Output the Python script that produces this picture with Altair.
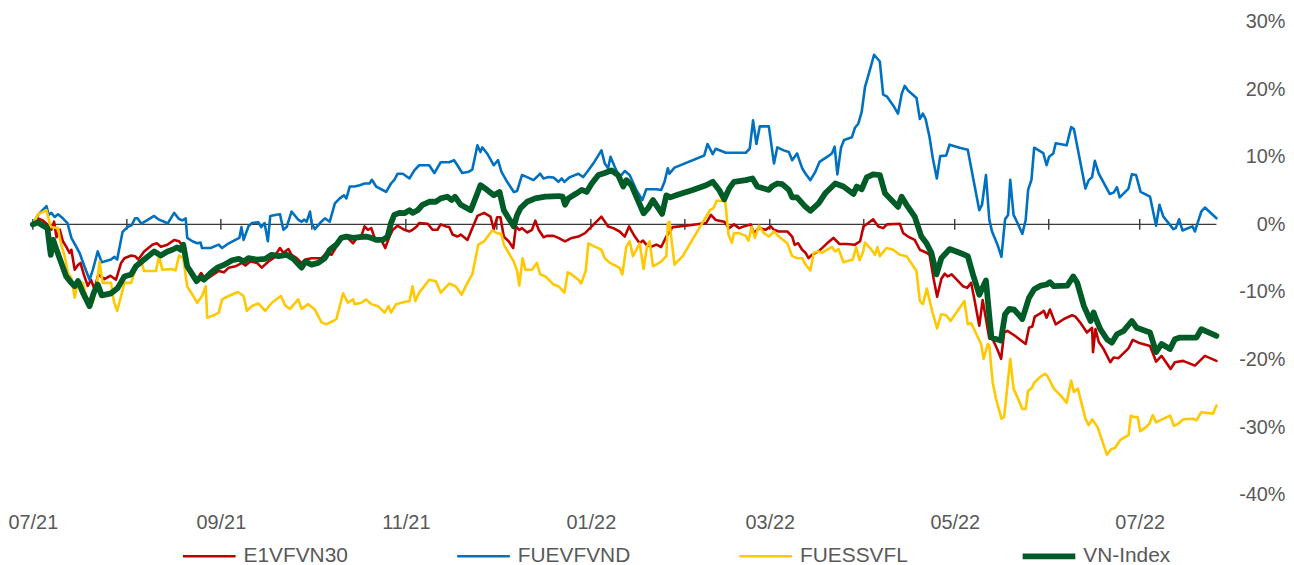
import altair as alt
import pandas as pd

SERIES = ["E1VFVN30", "FUEVFVND", "FUESSVFL", "VN-Index"]
COLORS = ["#C00000", "#0070C0", "#FFC800", "#005C27"]
WIDTHS = [2.6, 2.6, 2.6, 5.8]

START = "2021-07-01"

# days since 2021-07-01, and cumulative return in %
e1_day = [0,1.7,3.4,4.8,6.1,7.0,7.8,8.9,9.9,11.0,12.1,12.7,13.8,14.9,15.7,16.8,18.1,19.2,20.3,21.6,
          23.6,25.6,27.4,29.1,30.2,32.4,33.7,34.8,36.7,39.4,40.9,42.2,44.4,46.6,48.2,49.6,50.9,52.6,54.0,55.5,
          57.0,58.6,61.3,63.0,64.6,66.8,69.0,70.1,71.7,73.9,75.5,77.7,79.3,81.5,82.6,84.3,85.3,87.0,88.6,89.9,
          91.9,95.2,96.8,98.5,100.1,101.7,103.4,105.6,107.2,108.5,109.4,110.5,111.6,112.7,114.9,116.2,117.6,118.7,120.3,122.5,
          124.2,125.2,126.6,127.4,130.2,131.8,133.4,134.5,136.2,137.3,138.4,140.0,141.1,143.3,144.7,146.6,148.8,150.9,152.0,153.1,
          154.2,155.3,156.9,158.4,159.3,160.4,161.3,163.0,164.6,165.7,166.8,168.4,169.5,171.7,173.3,175.5,177.7,179.9,182.1,184.3,
          187.5,189.7,191.4,193.5,195.2,196.6,198.5,200.1,201.2,202.3,203.9,205.6,207.2,208.9,211.0,215.4,222.0,223.6,225.2,228.0,
          229.6,231.2,232.9,235.1,236.7,237.8,239.4,241.6,243.3,244.4,246.0,248.8,250.4,251.2,252.4,253.7,254.8,255.8,256.9,259.1,
          261.9,264.0,266.0,268.4,271.1,272.8,273.9,275.5,277.1,278.8,280.4,281.7,285.9,287.0,288.6,290.8,292.5,294.7,295.7,297.1,
          298.2,299.6,300.7,301.7,303.0,306.7,308.1,309.4,310.5,312.1,313.2,314.3,315.4,316.5,318.0,319.3,320.3,321.4,323.6,327.4,
          328.5,329.6,330.4,332.1,333.4,334.3,335.4,337.3,340.0,342.7,343.8,345.5,347.6,349.3,349.6,350.4,351.5,353.1,355.3,356.4,
          358.0,361.3,362.7,364.6,368.4,370.4,372.2,375.2,376.6,379.3,383.2,386.5,390.3]
e1_pct = [0,0.9,0.55,0,-0.8,0.4,-1.9,-0.8,-2.5,-3.3,-4.2,-3.75,-6.7,-6.0,-5.7,-7.4,-9.1,-8.2,-9.6,-7.4,
          -8.1,-7.6,-8.2,-5.7,-5.0,-4.6,-4.7,-5.2,-4.0,-3.0,-2.8,-3.3,-3.0,-2.3,-2.5,-3.3,-6.2,-7.4,-8.2,-7.2,
          -8.2,-7.7,-6.9,-7.1,-6.4,-6.2,-5.7,-6.1,-5.5,-5.7,-6.4,-5.5,-5.0,-3.5,-4.2,-3.65,-4.5,-5.0,-5.7,-5.2,
          -5.0,-5.0,-4.2,-4.5,-3.3,-2.0,-1.8,-2.8,-1.8,-1.5,-0.3,-0.8,-0.55,-2.0,-2.3,-3.5,-1.8,-0.8,-0.2,-0.8,
          -1.05,-0.8,-0.3,0.2,0.1,-0.8,-0.8,0,-0.3,-0.4,-1.5,-1.8,-1.5,-2.3,-0.8,1.25,1.7,1.15,-0.7,1.05,
          1.05,-1.8,-2.5,-3.5,-0.3,-0.8,-0.55,-1.2,-0.8,0.55,-0.8,-1.9,-1.7,-1.7,-2.0,-2.5,-2.0,-1.8,-1.3,-0.3,
          1.15,-0.3,-0.55,-1.05,-1.8,-0.3,-1.8,-2.8,-2.4,-3.0,-3.3,-3.0,-3.35,-1.8,-0.4,-0.2,0.2,1.4,0.65,0.4,
          -0.55,0,-0.55,-0.2,0,-1.3,-0.55,-0.8,-0.3,-0.8,-1.05,-1.05,-1.8,-3.0,-2.8,-3.75,-4.2,-5.0,-4.5,-4.0,
          -2.8,-2.0,-2.9,-2.9,-3.0,-2.5,-0.3,0.2,0.75,-0.3,-0.55,0,0.1,-1.3,-1.8,-2.3,-3.75,-4.2,-4.5,-8.2,
          -10.7,-8.05,-7.3,-7.7,-7.4,-9.15,-9.4,-8.65,-11.1,-15.0,-11.2,-14.0,-16.9,-17.0,-18.45,-19.9,-16.0,-15.75,-16.4,-17.7,
          -15.3,-15.1,-13.65,-13.2,-12.8,-13.8,-12.6,-14.8,-14.0,-13.45,-13.65,-14.6,-16.0,-15.3,-18.9,-15.5,-17.4,-18.45,-20.4,-19.7,
          -19.8,-18.35,-17.1,-17.5,-18.0,-20.3,-19.45,-21.4,-20.4,-20.2,-20.9,-19.45,-20.2]

fuevfvnd_day = [0,1.7,4.5,5.2,6.1,7.2,8.3,9.9,11.4,12.7,14.3,15.4,17.0,18.7,19.8,21.4,22.7,25.8,26.9,27.8,
                29.6,31.2,32.6,33.7,34.5,35.8,37.6,40.0,41.6,43.3,44.4,46.6,48.2,49.3,50.4,50.9,52.6,54.2,55.3,55.8,
                58.6,61.3,62.4,64.6,66.8,68.1,68.8,69.5,71.1,72.2,74.4,75.3,76.4,77.5,78.3,79.9,81.5,82.6,83.7,85.3,
                87.5,88.6,89.5,90.3,91.4,91.9,93.0,94.7,96.3,97.9,99.6,101.2,102.6,103.4,104.5,106.1,107.8,109.4,111.0,111.8,
                113.2,114.9,116.5,118.1,119.2,120.3,122.0,124.2,125.8,127.4,130.7,132.4,134.5,137.3,138.9,140.0,141.6,143.8,144.9,146.6,
                147.6,148.2,149.8,152.0,153.4,154.5,156.4,158.6,159.7,161.3,163.0,165.1,167.3,168.4,170.1,171.7,173.3,174.4,175.3,177.1,
                179.9,181.5,183.2,184.8,187.5,188.6,189.7,190.5,191.9,193.5,195.2,196.8,199.0,201.0,202.3,205.6,207.2,208.3,209.4,209.9,
                211.6,221.4,222.5,224.2,225.2,228.5,235.1,236.4,237.5,238.6,239.7,242.7,244.4,245.5,247.6,249.3,250.4,252.0,253.7,254.8,
                256.4,258.0,259.4,261.9,263.5,264.4,265.3,266.5,267.5,270.1,271.1,272.2,273.3,274.4,275.8,277.4,279.3,280.4,281.7,283.7,
                285.3,286.5,287.5,288.6,291.4,292.5,293.5,294.4,295.7,296.8,298.1,299.2,301.2,302.3,305.6,308.3,310.0,312.1,313.0,314.3,
                315.4,316.3,318.1,319.4,320.6,321.6,322.3,323.4,324.7,326.3,327.4,328.2,329.3,330.2,333.2,334.3,335.1,336.5,337.3,340.9,
                342.4,343.3,347.1,348.2,349.3,350.2,351.5,355.1,356.4,357.5,358.4,361.3,362.4,363.8,365.3,368.4,370.4,371.5,372.8,376.1,
                376.9,378.0,379.1,382.4,383.2,385.3,386.5,390.3]
fuevfvnd_pct = [0,1.4,2.7,1.4,1.7,1.1,1.5,0.9,0.2,-2.0,-3.3,-4.2,-6.2,-8.2,-6.7,-4.0,-5.6,-5.2,-4.8,-5.2,
                -1.1,-0.4,-0.1,0.9,0.9,0.1,0.6,1.25,0.7,0.4,0.1,1.7,0.8,0.6,0.9,-2.0,-2.5,-2.8,-2.7,-3.5,
                -3.5,-3.0,-3.5,-2.8,-2.3,-2.0,-0.4,-2.3,-0.3,0.2,0.3,-0.4,0.2,-2.5,1.25,1.4,1.5,-0.8,-0.4,1.9,
                0.7,0.4,0.7,0.4,1.9,0.2,-0.7,0.2,0.9,0.4,3.1,3.85,4.3,3.85,5.6,5.6,5.8,6.05,6.05,6.6,
                5.6,5.2,4.8,6.05,6.6,7.5,7.5,6.8,8.0,8.75,8.75,7.6,9.2,9.2,9.5,8.75,7.6,7.8,8.1,11.7,
                10.7,11.4,10.5,8.75,9.5,7.8,6.3,4.8,4.95,7.3,7.0,6.55,7.5,6.8,7.0,6.95,6.3,6.8,6.3,7.0,
                7.5,7.0,8.0,9.0,10.95,9.0,8.3,10.0,8.5,7.0,7.9,7.3,5.1,3.6,5.2,5.2,5.1,6.3,8.3,7.5,
                8.4,10.2,11.9,10.4,11.2,10.6,10.6,11.2,15.4,11.9,14.5,14.5,9.0,11.4,10.95,10.7,9.5,10.5,8.3,7.5,
                6.55,7.75,9.25,10.0,10.5,11.5,7.4,11.35,12.5,12.9,14.3,14.9,16.6,20.3,22.5,25.1,24.1,19.2,18.9,17.6,
                16.4,19.3,20.5,19.8,18.7,15.6,16.4,15.6,12.9,9.7,6.8,10.1,10.2,11.8,11.35,11.05,7.0,2.1,2.9,7.3,
                0.7,-1.05,-3.0,-4.8,0.75,1.4,6.6,1.4,0.2,-1.4,0.65,5.1,6.6,11.35,10.55,8.75,10.0,10.5,12.0,11.7,
                14.4,14.1,5.3,6.55,7.0,9.4,7.5,4.5,4.7,5.5,4.0,5.3,7.4,7.3,4.8,4.1,-0.2,2.9,1.15,-0.7,
                -0.55,0.75,-0.9,-0.3,-1.05,1.9,2.5,0.9]

fuessvfl_day = [0,1.7,4.5,5.9,8.3,9.2,10.5,11.6,12.7,13.8,14.9,16.5,17.6,18.7,19.8,20.9,22.0,23.0,25.8,26.7,
                27.8,29.1,30.2,32.4,34.0,35.6,36.7,40.6,41.6,42.7,45.5,47.1,48.2,49.6,50.9,52.6,54.2,55.8,57.0,57.5,
                59.7,61.3,62.4,64.6,67.6,69.5,70.6,72.2,74.4,76.6,78.8,81.8,83.2,84.8,87.5,88.6,90.8,93.0,95.2,96.8,
                99.0,100.1,102.3,103.9,105.6,106.1,108.3,109.9,111.6,113.8,116.0,117.3,118.1,119.8,122.5,124.2,125.2,126.1,127.4,130.7,
                132.9,134.5,137.3,139.4,141.4,143.3,144.9,146.9,148.8,151.5,153.1,154.5,155.3,156.9,158.6,159.7,160.4,161.5,162.4,164.6,
                166.2,167.3,169.0,171.7,173.3,175.3,176.4,177.7,179.9,180.8,182.3,183.2,185.3,187.5,188.6,190.3,193.5,194.4,195.7,196.8,
                197.9,200.1,201.4,202.5,203.4,204.5,207.2,208.9,209.4,209.9,211.6,214.3,222.0,223.3,224.4,225.5,228.3,229.4,230.5,231.2,
                232.9,235.1,236.0,237.0,238.1,239.4,241.1,242.7,244.4,246.0,248.8,250.4,252.0,253.7,254.8,256.4,257.5,259.1,260.2,261.9,
                263.5,264.6,265.7,267.3,270.4,271.5,272.6,273.7,274.4,276.1,277.7,278.5,279.3,281.5,283.7,285.9,288.1,291.4,292.5,293.5,
                294.8,296.6,298.2,299.5,301.2,302.6,307.2,308.3,309.4,312.7,313.5,314.9,315.4,316.5,317.6,319.4,320.3,322.3,323.4,324.7,
                326.3,327.4,328.2,329.3,330.2,332.1,333.7,334.5,336.7,338.9,340.9,342.4,343.3,344.6,347.1,348.2,349.3,351.1,354.2,355.5,
                356.9,358.6,361.3,362.1,363.0,364.3,365.2,366.8,368.2,369.3,370.4,375.0,376.3,377.7,379.3,382.6,383.7,385.3,389.2,390.3]
fuessvfl_pct = [0,1.5,2.1,-0.4,-0.55,-2.8,-4.7,-7.2,-7.9,-10.85,-8.4,-8.65,-10.6,-11.35,-11.6,-9.6,-5.5,-8.65,-8.65,-11.35,
                -12.8,-10.6,-8.65,-8.65,-6.45,-5.2,-6.9,-6.9,-4.7,-6.7,-6.6,-6.8,-4.6,-5.0,-9.15,-10.4,-11.6,-10.6,-9.15,-13.8,
                -13.45,-13.05,-11.1,-10.6,-10.0,-10.6,-12.8,-12.1,-11.7,-12.8,-11.6,-10.6,-12.0,-12.5,-11.1,-12.5,-11.8,-12.6,-14.5,-14.8,
                -14.3,-14.0,-10.2,-11.6,-11.1,-11.8,-11.6,-11.1,-11.8,-12.1,-13.05,-12.1,-13.05,-11.8,-11.5,-11.35,-9.15,-11.35,-10.1,-8.2,
                -8.4,-10.1,-8.75,-9.15,-10.4,-8.65,-7.4,-3.0,-2.5,-0.9,-1.3,-1.4,-3.0,-4.2,-5.5,-6.9,-9.05,-5.0,-6.7,-6.7,
                -5.7,-7.4,-7.7,-8.9,-9.15,-10.1,-7.1,-7.4,-8.2,-8.75,-6.9,-2.8,-3.3,-3.75,-5.0,-5.7,-6.45,-7.4,-3.3,-2.5,
                -4.7,-2.8,-6.6,-3.3,-2.5,-6.2,-5.5,-4.7,0.2,0.4,-5.95,-4.7,1.15,2.1,2.4,3.5,3.5,-1.5,-2.7,-1.3,
                -1.3,-1.7,-2.4,-0.4,-2.0,-0.2,-1.3,-1.8,-1.05,-1.8,-2.8,-4.7,-5.0,-5.0,-5.95,-6.8,-4.2,-4.0,-4.2,-3.75,
                -3.35,-4.0,-3.65,-5.6,-5.2,-3.35,-5.3,-4.2,-2.7,-3.5,-4.5,-3.35,-4.7,-3.5,-3.75,-4.5,-4.7,-6.9,-11.35,-11.8,
                -9.5,-12.9,-15.4,-13.3,-13.45,-14.3,-11.35,-14.8,-14.6,-17.7,-19.9,-17.7,-17.9,-23.35,-25.8,-28.75,-28.5,-19.9,-24.3,-25.6,
                -27.3,-27.3,-24.6,-24.3,-23.45,-22.6,-22.1,-22.4,-24.3,-25.3,-26.4,-23.1,-24.8,-24.3,-28.75,-29.7,-28.85,-30.0,-34.1,-33.3,
                -33.05,-31.9,-31.2,-28.3,-28.5,-28.5,-30.6,-30.1,-29.5,-28.2,-29.3,-28.3,-29.8,-29.5,-28.85,-28.75,-29.0,-27.8,-28.0,-26.8]

vnindex_day = [0,1.7,3.4,4.8,5.9,6.7,7.8,9.4,11.0,12.7,13.8,14.9,16.5,18.7,20.1,21.4,22.7,25.8,28.0,30.2,
               32.4,34.0,36.7,40.0,42.2,44.4,46.0,47.6,48.8,49.6,50.9,52.6,54.0,55.3,56.4,58.6,60.8,63.0,65.7,67.9,
               69.5,71.1,73.9,76.6,78.8,81.0,83.7,85.9,88.6,89.9,91.9,94.1,96.3,97.9,100.1,101.7,103.4,105.6,107.8,109.9,
               111.6,113.2,115.4,117.0,118.1,119.2,120.9,122.5,124.2,125.2,126.9,128.5,130.7,132.9,134.5,136.7,138.1,139.2,141.1,144.4,
               146.6,147.6,149.8,152.0,153.9,155.3,156.9,158.6,159.7,160.8,163.0,165.7,169.0,173.3,174.7,175.5,176.6,179.3,181.0,182.6,
               184.3,186.5,188.6,190.8,193.0,194.7,195.7,197.4,199.0,201.4,202.9,204.5,207.5,208.9,210.2,212.1,217.6,222.0,224.2,226.3,
               228.0,229.6,231.2,235.1,237.3,238.9,241.1,242.7,243.8,245.5,247.1,249.3,250.4,252.0,254.8,256.4,259.1,261.3,264.6,267.3,
               270.6,271.7,273.3,275.0,277.1,279.3,281.0,282.6,285.3,286.5,288.1,290.8,293.0,294.7,296.3,298.0,299.6,302.3,305.6,308.3,
               310.0,312.1,314.3,315.4,316.1,319.2,320.6,322.0,323.6,326.3,328.5,330.2,332.4,334.3,335.4,336.7,341.1,343.1,344.4,346.6,
               348.8,349.8,350.4,352.0,354.2,355.8,357.5,359.7,362.4,364.0,368.4,370.4,372.2,375.0,376.6,378.3,383.7,385.3,390.3]
vnindex_pct = [0,0.3,-0.2,-0.55,-4.5,-2.3,-3.75,-5.7,-7.7,-8.65,-9.15,-8.4,-10.1,-12.1,-10.1,-8.9,-10.5,-10.2,-9.4,-7.7,
               -7.4,-6.2,-5.2,-4.0,-4.6,-4.0,-3.75,-3.4,-3.75,-3.0,-6.2,-7.4,-8.4,-7.8,-8.2,-7.2,-6.4,-6.0,-5.3,-5.1,
               -5.5,-5.0,-5.2,-5.1,-4.5,-4.7,-4.5,-5.1,-6.4,-5.5,-5.95,-5.7,-5.0,-3.75,-3.0,-2.0,-1.8,-2.0,-1.9,-1.8,
               -2.0,-2.3,-2.3,-1.8,0.2,1.4,1.7,1.65,2.1,1.7,2.1,2.9,3.35,3.35,3.85,4.1,3.6,4.1,2.9,2.1,
               4.6,5.8,5.1,4.3,4.8,2.1,0.9,-0.3,1.4,2.4,3.35,3.85,4.1,4.2,4.1,2.9,3.85,4.6,5.1,4.8,
               6.05,7.3,7.6,8.0,7.3,5.6,6.55,5.8,4.1,1.65,2.4,3.6,1.55,4.3,4.0,4.3,5.1,5.8,6.3,5.1,
               3.7,5.3,6.3,6.55,6.8,5.6,5.3,5.1,5.65,6.05,5.95,5.1,4.0,4.0,2.6,2.0,3.1,4.6,6.05,5.6,
               4.5,5.6,5.2,6.95,7.4,7.3,4.6,3.85,2.6,4.1,2.9,1.15,-1.8,-2.8,-4.2,-7.4,-5.0,-3.65,-4.2,-4.7,
               -7.4,-10.4,-8.3,-13.55,-16.75,-17.2,-13.3,-12.5,-12.6,-14.0,-10.85,-9.6,-9.05,-8.9,-8.55,-9.15,-9.05,-7.7,-8.65,-12.1,
               -14.3,-13.05,-13.8,-15.5,-17.0,-17.5,-16.25,-15.75,-14.3,-15.3,-16.0,-18.9,-17.7,-18.45,-17.0,-16.75,-16.75,-15.5,-16.5]

# x-axis labels and month marks on the zero line
label_dates = ["2021-07-01", "2021-09-01", "2021-11-01", "2022-01-01", "2022-03-01", "2022-05-01", "2022-07-01"]
month_marks = ["2021-07-01", "2021-08-01", "2021-09-01", "2021-10-01", "2021-11-01", "2021-12-01", "2022-01-01",
               "2022-02-01", "2022-03-01", "2022-04-01", "2022-05-01", "2022-06-01", "2022-07-01"]
y_ticks = [-40, -30, -20, -10, 0, 10, 20, 30]

start = pd.Timestamp(START)
frames = []
for name, d, v in [("E1VFVN30", e1_day, e1_pct), ("FUEVFVND", fuevfvnd_day, fuevfvnd_pct),
                   ("FUESSVFL", fuessvfl_day, fuessvfl_pct), ("VN-Index", vnindex_day, vnindex_pct)]:
    assert len(d) == len(v), (name, len(d), len(v))
    frames.append(pd.DataFrame({"date": start + pd.to_timedelta(d, unit="D"), "pct": v, "series": name}))
df = pd.concat(frames, ignore_index=True)

ticks_df = pd.DataFrame({"date": pd.to_datetime(month_marks), "pct": [0.8] * len(month_marks),
                         "pct2": [-0.8] * len(month_marks)})
zero_df = pd.DataFrame({"pct": [0]})

FONT = "Liberation Sans"
GREY = "#595959"

def dt(s):
    t = pd.Timestamp(s)
    return alt.DateTime(year=t.year, month=t.month, date=t.day)

x_enc = alt.X("date:T", title=None,
              scale=alt.Scale(nice=False),
              axis=alt.Axis(values=[dt(s) for s in label_dates], format="%m/%y", domain=False,
                            ticks=False, tickSize=0, grid=False, labelFlush=False, labelOverlap=False,
                            labelPadding=18, labelFontSize=20, labelFont=FONT, labelColor=GREY))
y_scale = alt.Scale(domain=[-40, 30], nice=False, zero=False)
y_axis = alt.Axis(orient="right", values=y_ticks, labelExpr="datum.value + '%'", domain=False,
                  ticks=False, tickSize=0, grid=False, labelAlign="right", labelPadding=69,
                  labelFlush=False, labelFontSize=20, labelFont=FONT, labelColor=GREY, title=None)
y_enc = alt.Y("pct:Q", scale=y_scale, axis=y_axis, title=None)

leg = alt.Legend(orient="none", legendX=148, legendY=508, direction="horizontal", columns=4,
                 title=None, symbolType="stroke", symbolSize=2809, labelFontSize=21,
                 labelFont=FONT, labelColor=GREY, columnPadding=103, labelOffset=5, padding=0)
color_enc = alt.Color("series:N", scale=alt.Scale(domain=SERIES, range=COLORS), legend=leg)
width_enc = alt.StrokeWidth("series:N", scale=alt.Scale(type="ordinal", domain=SERIES, range=WIDTHS),
                            legend=leg)

zero_line = alt.Chart(zero_df).mark_rule(color="#3a3a3a", strokeWidth=1.4).encode(y=y_enc)
month_ticks = alt.Chart(ticks_df).mark_rule(color="#3a3a3a", strokeWidth=1.4).encode(
    x=x_enc, y=y_enc, y2="pct2:Q")

lines = [
    alt.Chart(df).transform_filter(alt.datum.series == s)
    .mark_line(strokeJoin="round", strokeCap="round")
    .encode(x=x_enc, y=y_enc, color=color_enc, strokeWidth=width_enc)
    for s in SERIES
]

chart = alt.layer(zero_line, month_ticks, *lines).properties(
    width=1191, height=476, autosize="none", background="white",
    padding={"left": 25, "top": 12, "right": 70, "bottom": 70},
).configure_view(stroke=None)

chart.save("out.html", embed_options={"renderer": "svg", "actions": False})
